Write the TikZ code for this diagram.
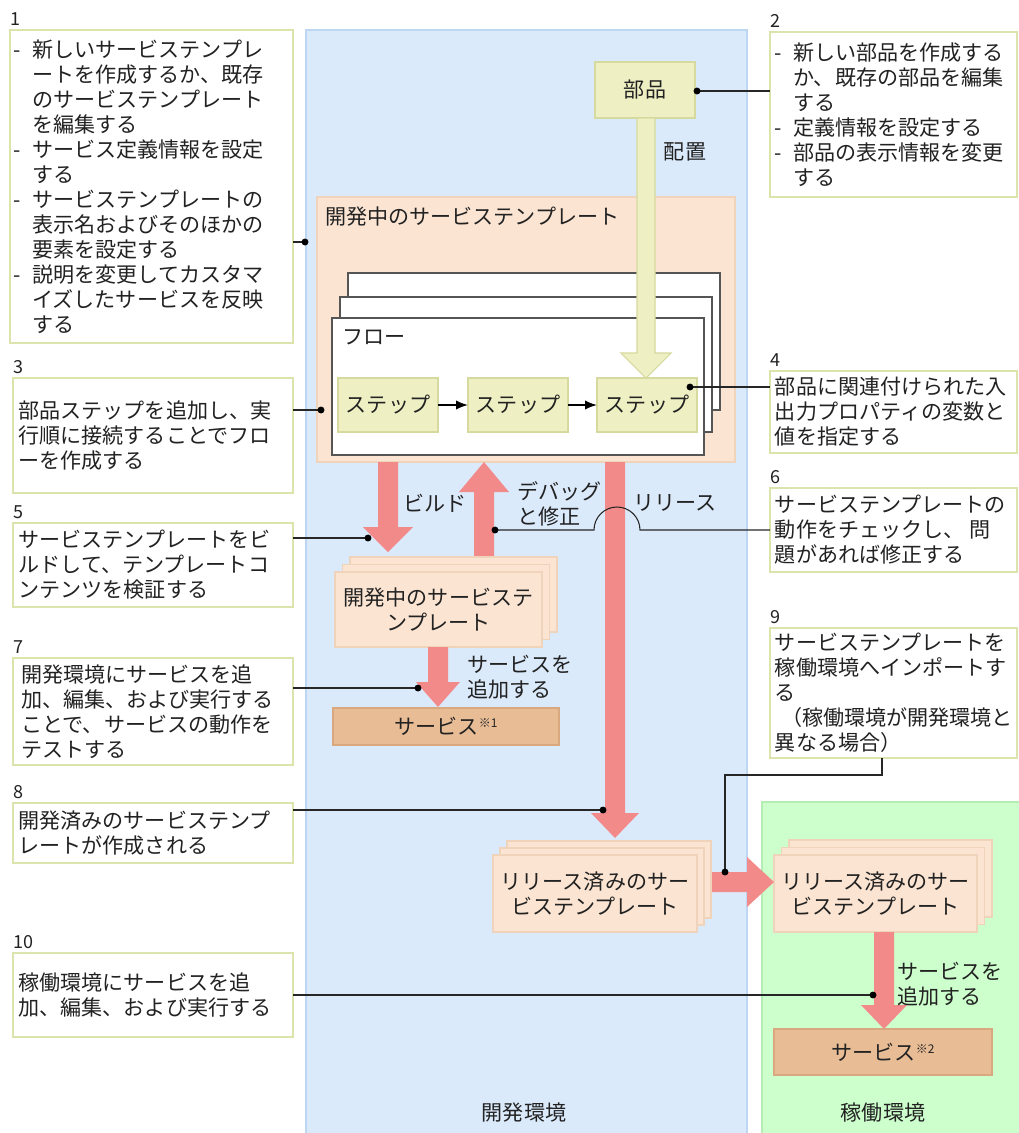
\documentclass[tikz,border=0pt]{standalone}
\usepackage{fontspec}
\setmainfont{Noto Sans CJK JP}
\usetikzlibrary{fit,arrows.meta}
\definecolor{envblue}{HTML}{DBEAFB}
\definecolor{envblueb}{HTML}{BDD7F3}
\definecolor{envgreen}{HTML}{CCFFCC}
\definecolor{envgreenb}{HTML}{B5EDB5}
\definecolor{peach}{HTML}{FBE4D2}
\definecolor{peachb}{HTML}{EFD3BA}
\definecolor{ylw}{HTML}{EEF0C3}
\definecolor{ylwb}{HTML}{D6DA9E}
\definecolor{tanc}{HTML}{E8BC95}
\definecolor{tanb}{HTML}{D9A87E}
\definecolor{pinkarr}{HTML}{F38A8A}
\definecolor{noteb}{HTML}{DCE3AC}
\definecolor{flowb}{HTML}{555555}
\definecolor{txt}{HTML}{222222}
\newcommand\jpf{\fontsize{15.8}{18.75}\selectfont}
\newcommand\smark[1]{\raisebox{0.6ex}{\fontsize{9}{9}\selectfont ※#1}}
\newcommand\dsh{\makebox[1em][l]{\hspace{1.5pt}-}}
\newcommand\ind{\hspace*{1em}}
\tikzset{
  note/.style={draw=noteb, line width=1pt, fill=white, inner sep=0pt, outer sep=0pt},
  jp/.style={font=\jpf, text=txt, inner sep=0pt, align=left},
  num/.style={font=\fontsize{13.5}{13.5}\selectfont, text=txt, inner sep=0pt, anchor=base west},
  conn/.style={draw=black!85, line width=0.8pt},
  flowr/.style={draw=flowb, line width=1.1pt, fill=white, inner sep=0pt, outer sep=0pt},
  peachr/.style={fill=peach, draw=peachb, line width=0.8pt, inner sep=0pt, outer sep=0pt},
  ylwr/.style={fill=ylw, draw=ylwb, line width=0.8pt, inner sep=0pt, outer sep=0pt},
  tanr/.style={fill=tanc, draw=tanb, line width=0.8pt, inner sep=0pt, outer sep=0pt},
  blk/.style={fill=pinkarr, draw=none},
  steparr/.style={draw=black, line width=1.2pt, -{Latex[length=9pt,width=7pt]}},
}
\newcommand\notebox[6]{%
  \node[note, fit={(#3,#4) (#5,#6)}] (#1) {};
  \node[num] (#1num) at (#3,#4-5) {#2};}
\newcommand\stackbox[6]{%
  \node[peachr, fit={(#2+2*#6,#3-2*#6) (#4+2*#6,#5-2*#6)}] (#1c) {};
  \node[peachr, fit={(#2+#6,#3-#6) (#4+#6,#5-#6)}] (#1b) {};
  \node[peachr, fit={(#2,#3) (#4,#5)}] (#1) {};}
\begin{document}
\begin{tikzpicture}[x=0.75pt,y=-0.75pt]
\useasboundingbox (0,0) rectangle (1019,1133);
% environments
\fill[envblue] (306,30) rectangle (747,1133);
\draw[envblueb, line width=1pt] (306,1133) -- (306,30) -- (747,30) -- (747,1133);
\fill[envgreen] (762,802) rectangle (1019,1133);
\draw[envgreenb, line width=1pt] (762,1133) -- (762,802) -- (1019,802);
\node[jp] (envdev) at (524,1113) {開発環境};
\node[jp] (envprod) at (883,1113) {稼働環境};

% notes
\notebox{n1}{1}{10}{30}{293}{343}
\node[jp, anchor=west] (n1t) at ([xshift=0.75pt]n1.west) {\dsh 新しいサービステンプレ\\\ind ートを作成するか、既存\\\ind のサービステンプレート\\\ind を編集する\\\dsh サービス定義情報を設定\\\ind する\\\dsh サービステンプレートの\\\ind 表示名およびそのほかの\\\ind 要素を設定する\\\dsh 説明を変更してカスタマ\\\ind イズしたサービスを反映\\\ind する};
\notebox{n3}{3}{13}{378}{293}{493}
\node[jp, anchor=west] (n3t) at ([xshift=4pt]n3.west) {部品ステップを追加し、実\\行順に接続することでフロ\\ーを作成する};
\notebox{n5}{5}{13}{523}{293}{607}
\node[jp, anchor=west] (n5t) at ([xshift=4pt]n5.west) {サービステンプレートをビ\\ルドして、テンプレートコ\\ンテンツを検証する};
\notebox{n7}{7}{13}{658}{293}{765}
\node[jp, anchor=west] (n7t) at ([xshift=6pt]n7.west) {開発環境にサービスを追\\加、編集、および実行する\\ことで、サービスの動作を\\テストする};
\notebox{n8}{8}{13}{803}{293}{863}
\node[jp, anchor=west] (n8t) at ([xshift=4pt]n8.west) {開発済みのサービステンプ\\レートが作成される};
\notebox{n10}{10}{13}{953}{293}{1037}
\node[jp, anchor=west] (n10t) at ([xshift=4pt]n10.west) {稼働環境にサービスを追\\加、編集、および実行する};
\notebox{n2}{2}{770}{32}{1017}{197}
\node[jp, anchor=west] (n2t) at ([xshift=1.5pt]n2.west) {\dsh 新しい部品を作成する\\\ind か、既存の部品を編集\\\ind する\\\dsh 定義情報を設定する\\\dsh 部品の表示情報を変更\\\ind する};
\notebox{n4}{4}{770}{371}{1017}{453}
\node[jp, anchor=west] (n4t) at ([xshift=3.5pt]n4.west) {部品に関連付けられた入\\出力プロパティの変数と\\値を指定する};
\notebox{n6}{6}{770}{488}{1017}{572}
\node[jp, anchor=west] (n6t) at ([xshift=3.5pt]n6.west) {サービステンプレートの\\動作をチェックし、 問\\題があれば修正する};
\notebox{n9}{9}{770}{628}{1017}{758}
\node[jp, anchor=west] (n9t) at ([xshift=3.5pt]n9.west) {サービステンプレートを\\稼働環境へインポートす\\る\\\hspace*{0.3em}（稼働環境が開発環境と\\異なる場合）};

% template under development
\node[peachr, fit={(317,197) (735,462)}] (dev) {};
\node[jp, anchor=west] (devt) at (325,217) {開発中のサービステンプレート};
\node[flowr, fit={(348,273) (720,410)}] (fl3) {};
\node[flowr, fit={(340,297) (712,432)}] (fl2) {};
\node[flowr, fit={(332,318) (704,455)}] (fl1) {};
\node[jp, anchor=west] (flt) at (342,337) {フロー};
\node[ylwr, fit={(338,378) (438,432)}] (s1) {};
\node[jp] (s1t) at (s1) {ステップ};
\node[ylwr, fit={(468,378) (568,432)}] (s2) {};
\node[jp] (s2t) at (s2) {ステップ};
\node[ylwr, fit={(597,378) (697,432)}] (s3) {};
\node[jp] (s3t) at (s3) {ステップ};
\draw[steparr] (s1.east) -- (s2.west);
\draw[steparr] (s2.east) -- (s3.west);

% part
\node[ylwr, fit={(595,62) (695,118)}] (part) {};
\node[jp] (partt) at (part) {部品};
\draw[fill=ylw, draw=ylwb, line width=0.8pt] (637,118) -- (655,118) -- (655,353) -- (671,353) -- (646,378) -- (621,353) -- (637,353) -- cycle;
\node[jp] (haichi) at (685,152) {配置};

% pink arrows
\fill[blk] (378,462) -- (398,462) -- (398,527) -- (413,527) -- (388,552) -- (363,527) -- (378,527) -- cycle;
\node[jp, anchor=west] (build) at (403,503) {ビルド};
\fill[blk] (474,557) -- (494,557) -- (494,492) -- (509,492) -- (484,462) -- (459,492) -- (474,492) -- cycle;
\node[jp, anchor=west] (debug) at (517,504) {デバッグ\\と修正};
\fill[blk] (605,462) -- (625,462) -- (625,813) -- (639,813) -- (615,838) -- (591,813) -- (605,813) -- cycle;
\node[jp, anchor=west] (release) at (633,503) {リリース};

% built template stack
\stackbox{dst}{335}{572}{542}{647}{7.5}
\node[jp, align=center] (dstt) at (dst) {開発中のサービステ\\ンプレート};
\fill[blk] (428,647) -- (448,647) -- (448,682) -- (460,682) -- (438,707) -- (416,682) -- (428,682) -- cycle;
\node[jp, anchor=west] (add1) at (467,677) {サービスを\\追加する};
\node[tanr, fit={(333,708) (559,745)}] (svc1) {};
\node[jp] (svc1t) at (svc1) {サービス\smark{1}};

% released stacks
\stackbox{rel}{493}{855}{697}{932}{7}
\node[jp, align=center] (relt) at (rel) {リリース済みのサー\\ビステンプレート};
\stackbox{prd}{774}{855}{977}{932}{7.5}
\node[jp, align=center] (prdt) at (prd) {リリース済みのサー\\ビステンプレート};
\fill[blk] (712,872) -- (747,872) -- (747,857) -- (774,882) -- (747,907) -- (747,892) -- (712,892) -- cycle;
\fill[blk] (874,932) -- (894,932) -- (894,1005) -- (907,1005) -- (884,1029) -- (861,1005) -- (874,1005) -- cycle;
\node[jp, anchor=west] (add2) at (897,984) {サービスを\\追加する};
\node[tanr, fit={(774,1029) (992,1075)}] (svc2) {};
\node[jp] (svc2t) at (svc2) {サービス\smark{2}};

% connectors
\coordinate (d1) at (305,242);
\draw[conn] (n1.east |- d1) -- (d1);
\coordinate (d2) at (697,91);
\draw[conn] (d2) -- (d2 -| n2.west);
\coordinate (d3) at (321,410);
\draw[conn] (n3.east |- d3) -- (d3);
\coordinate (d4) at (690,387);
\draw[conn] (d4) -- (d4 -| n4.west);
\coordinate (d5) at (368,538);
\draw[conn] (n5.east |- d5) -- (d5);
\coordinate (d6) at (495,530);
\draw[conn] (d6) -- (594,530) arc[start angle=180, end angle=0, radius=17.25pt] -- (d6 -| n6.west);
\coordinate (d7) at (418,688);
\draw[conn] (n7.east |- d7) -- (d7);
\coordinate (d8) at (603,810);
\draw[conn] (n8.east |- d8) -- (d8);
\coordinate (d9) at (725,872);
\coordinate (k9) at (882,775);
\draw[conn] (k9 |- n9.south) -- (k9) -- (k9 -| d9) -- (d9);
\coordinate (d10) at (873,995);
\draw[conn] (n10.east |- d10) -- (d10);
\foreach \d in {d1,d2,d3,d4,d5,d6,d7,d8,d9,d10} \fill[black] (\d) circle[radius=2.6pt];
\end{tikzpicture}
\end{document}
